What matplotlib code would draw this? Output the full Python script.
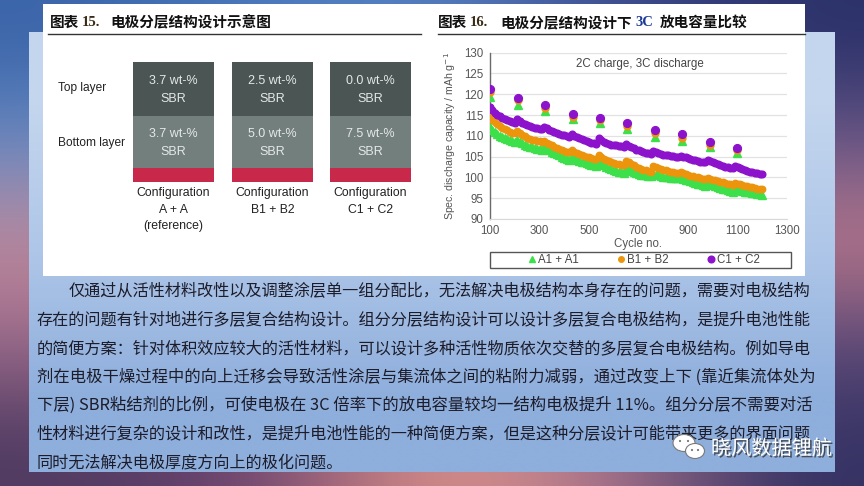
import numpy as np
import matplotlib
matplotlib.use('Agg')
import matplotlib.pyplot as plt
from matplotlib.patches import Rectangle, Ellipse
from matplotlib import font_manager
import matplotlib.patheffects as pe

# ---------------- data ----------------
cycles = list(range(100, 1201, 10))
a_main = [112.2, 111.5, 110.9, 110.4, 110.0, 109.7, 109.4, 109.2, 109.0, 108.8, 108.6,
          109.0, 108.6, 108.2, 107.9, 107.6, 107.4, 107.2, 107.0, 106.9, 106.8, 106.6,
          107.2, 106.8, 106.5, 106.2, 105.9, 105.6, 105.3, 105.0, 104.7, 104.4, 104.2,
          105.0, 104.6, 104.3, 104.0, 103.8, 103.6, 103.4, 103.2, 103.0, 102.9, 102.8,
          103.8, 103.3, 102.9, 102.6, 102.3, 102.0, 101.8, 101.6, 101.4, 101.2, 101.0,
          102.3, 101.9, 101.6, 101.3, 101.1, 100.9, 100.7, 100.6, 100.5, 100.4, 100.3,
          100.8, 100.6, 100.5, 100.3, 100.2, 100.1, 100.0, 99.9, 99.9, 99.8, 99.8,
          99.9, 99.7, 99.5, 99.3, 99.1, 98.9, 98.7, 98.5, 98.3, 98.1, 97.9,
          98.6, 98.3, 98.1, 97.9, 97.7, 97.5, 97.3, 97.1, 96.9, 96.7, 96.5,
          97.1, 97.0, 96.9, 96.7, 96.6, 96.5, 96.4, 96.3, 96.2, 96.0, 95.9, 95.8]
b_main = [114.6, 113.9, 113.3, 112.8, 112.3, 111.9, 111.6, 111.3, 111.0, 110.8, 110.6,
          111.2, 110.7, 110.3, 109.9, 109.6, 109.3, 109.1, 108.9, 108.8, 108.7, 108.6,
          108.8, 108.4, 108.0, 107.7, 107.4, 107.1, 106.8, 106.6, 106.4, 106.2, 106.0,
          106.6, 106.2, 105.9, 105.6, 105.3, 105.1, 104.9, 104.8, 104.6, 104.5, 104.4,
          105.4, 104.9, 104.5, 104.2, 103.9, 103.7, 103.5, 103.3, 103.2, 103.1, 103.0,
          104.0, 103.6, 103.2, 102.9, 102.6, 102.3, 102.1, 101.9, 101.7, 101.5, 101.4,
          102.8, 102.5, 102.3, 102.1, 101.9, 101.7, 101.5, 101.4, 101.2, 101.1, 101.0,
          101.2, 101.0, 100.8, 100.6, 100.4, 100.3, 100.1, 100.0, 99.8, 99.7, 99.6,
          99.9, 99.7, 99.5, 99.3, 99.1, 98.9, 98.8, 98.6, 98.5, 98.3, 98.2,
          98.7, 98.5, 98.3, 98.2, 98.0, 97.9, 97.7, 97.6, 97.5, 97.3, 97.2, 97.1]
c_main = [116.9, 116.2, 115.6, 115.1, 114.7, 114.4, 114.1, 113.8, 113.6, 113.4, 113.2,
          114.0, 113.5, 113.1, 112.8, 112.5, 112.3, 112.1, 111.9, 111.8, 111.7, 111.6,
          112.2, 111.8, 111.5, 111.2, 110.9, 110.7, 110.5, 110.3, 110.1, 110.0, 109.8,
          110.4, 110.0, 109.7, 109.4, 109.2, 109.0, 108.8, 108.6, 108.4, 108.2, 108.1,
          109.4, 108.9, 108.6, 108.3, 108.1, 107.9, 107.8, 107.7, 107.6, 107.5, 107.4,
          108.0, 107.6, 107.3, 107.0, 106.7, 106.5, 106.3, 106.1, 105.9, 105.8, 105.6,
          106.4, 106.0, 105.8, 105.6, 105.5, 105.4, 105.3, 105.2, 105.1, 105.0, 105.0,
          105.2, 105.0, 104.8, 104.6, 104.4, 104.3, 104.1, 104.0, 103.8, 103.7, 103.6,
          104.2, 103.9, 103.6, 103.4, 103.2, 103.0, 102.8, 102.6, 102.5, 102.3, 102.2,
          102.8, 102.5, 102.2, 102.0, 101.8, 101.6, 101.4, 101.3, 101.1, 101.0, 100.9, 100.8]
check_cycles = [100, 212, 324, 435, 545, 655, 765, 876, 987, 1098]
a_check = [119.3, 117.5, 116.0, 114.0, 113.0, 111.6, 109.8, 108.7, 107.2, 105.8]
b_check = [120.6, 118.6, 116.8, 114.6, 113.7, 112.4, 110.8, 109.6, 107.9, 106.5]
c_check = [121.2, 119.2, 117.4, 115.2, 114.4, 113.2, 111.5, 110.4, 108.6, 107.1]
series_names = ['A1 + A1', 'B1 + B2', 'C1 + C2']
x_ticks = [100, 300, 500, 700, 900, 1100, 1300]
y_ticks = [90, 95, 100, 105, 110, 115, 120, 125, 130]

top_sbr = [3.7, 2.5, 0.0]
bottom_sbr = [3.7, 5.0, 7.5]
config_labels = ['Configuration\nA + A\n(reference)', 'Configuration\nB1 + B2',
                 'Configuration\nC1 + C2']
layer_labels = ['Top layer', 'Bottom layer']

paragraph = [
    '仅通过从活性材料改性以及调整涂层单一组分配比，无法解决电极结构本身存在的问题，需要对电极结构',
    '存在的问题有针对地进行多层复合结构设计。组分分层结构设计可以设计多层复合电极结构，是提升电池性能',
    '的简便方案：针对体积效应较大的活性材料，可以设计多种活性物质依次交替的多层复合电极结构。例如导电',
    '剂在电极干燥过程中的向上迁移会导致活性涂层与集流体之间的粘附力减弱，通过改变上下 (靠近集流体处为',
    '下层) SBR粘结剂的比例，可使电极在 3C 倍率下的放电容量较均一结构电极提升 11%。组分分层不需要对活',
    '性材料进行复杂的设计和改性，是提升电池性能的一种简便方案，但是这种分层设计可能带来更多的界面问题',
    '同时无法解决电极厚度方向上的极化问题。',
]

# ---------------- fonts ----------------
names = {f.name for f in font_manager.fontManager.ttflist}
narrow = 'Liberation Sans Narrow' if 'Liberation Sans Narrow' in names else 'Liberation Sans'
CJK = ['Noto Sans CJK SC', 'DejaVu Sans']
plt.rcParams['font.family'] = ['Liberation Sans', 'DejaVu Sans']

fig = plt.figure(figsize=(8.64, 4.86), dpi=100)
bg = fig.add_axes([0, 0, 1, 1])
bg.axis('off')

def hx(c):
    c = c.lstrip('#')
    return [int(c[i:i + 2], 16) / 255 for i in (0, 2, 4)]

grid_cols = [
    ['#3a64a8', '#4a78bc', '#5684c4', '#3c4c92', '#2a3068'],
    ['#6a8cc4', '#7a96c8', '#8aa0cc', '#7a6898', '#6a5888'],
    ['#c48a9a', '#b890a0', '#a898b0', '#b07a90', '#c07a8a'],
    ['#9a6a8c', '#a07090', '#c08890', '#806088', '#5a4878'],
    ['#4e3a60', '#6a4070', '#e89888', '#b07890', '#303062'],
]
img = np.array([[hx(c) for c in row] for row in grid_cols])
bg.imshow(img, extent=(0, 864, 486, 0), aspect='auto', interpolation='bicubic', zorder=0)

panel = np.array([[hx('#c4d6ee')], [hx('#aec6e8')], [hx('#8eaedc')]])
bg.imshow(panel, extent=(29, 835, 472, 33), aspect='auto', interpolation='bilinear', zorder=1)
bg.set_xlim(0, 864)
bg.set_ylim(486, 0)

bg.add_patch(Rectangle((43, 4), 762, 272, facecolor='white', edgecolor='none', zorder=2))
bg.plot([48, 421], [34, 34], color='#333333', lw=1.0, zorder=3)
bg.plot([438, 805], [34, 34], color='#333333', lw=1.0, zorder=3)

tkw = dict(va='center', ha='left', zorder=4)
bg.text(50, 22, '图表', fontsize=10.5, family=CJK, weight='heavy', color='#111111', **tkw)
bg.text(82, 23, '15.', fontsize=10.5, family='Liberation Serif', weight='bold', color='#3a2a14', **tkw)
bg.text(110, 22, '电极分层结构设计示意图', fontsize=10.5, family=CJK, weight='heavy', color='#111111', **tkw)
bg.text(438, 22, '图表', fontsize=10.5, family=CJK, weight='heavy', color='#111111', **tkw)
bg.text(470, 23, '16.', fontsize=10.5, family='Liberation Serif', weight='bold', color='#3a2a14', **tkw)
bg.text(500, 22, '电极分层结构设计下', fontsize=10.5, family=CJK, weight='heavy', color='#111111', **tkw)
bg.text(635, 23, '3C', fontsize=10.5, family='Liberation Serif', weight='bold', color='#1a3a96', **tkw)
bg.text(660, 22, '放电容量比较', fontsize=10.5, family=CJK, weight='heavy', color='#111111', **tkw)

# ---------------- layer diagram ----------------
col_x = [133, 232, 330]
bw = 81
dfs = 9.0
for i, cx0 in enumerate(col_x):
    bg.add_patch(Rectangle((cx0, 62), bw, 54, facecolor='#4b5553', edgecolor='none', zorder=3))
    bg.add_patch(Rectangle((cx0, 116), bw, 52, facecolor='#737f7d', edgecolor='none', zorder=3))
    bg.add_patch(Rectangle((cx0, 168), bw, 14, facecolor='#c8284a', edgecolor='none', zorder=3))
    cx = cx0 + bw / 2
    bg.text(cx, 81, f'{top_sbr[i]:.1f} wt-%', fontsize=dfs, family=narrow, color='#e4e8e8',
            ha='center', va='center', zorder=4)
    bg.text(cx, 99, 'SBR', fontsize=dfs, family=narrow, color='#e4e8e8', ha='center', va='center', zorder=4)
    bg.text(cx, 134, f'{bottom_sbr[i]:.1f} wt-%', fontsize=dfs, family=narrow, color='#e4e8e8',
            ha='center', va='center', zorder=4)
    bg.text(cx, 152, 'SBR', fontsize=dfs, family=narrow, color='#e4e8e8', ha='center', va='center', zorder=4)
    bg.text(cx, 187, config_labels[i], fontsize=8.8, family=narrow, color='#222222',
            ha='center', va='top', linespacing=1.5, zorder=4)
bg.text(58, 88, layer_labels[0], fontsize=8.6, family=narrow, color='#222222', ha='left', va='center', zorder=4)
bg.text(58, 143, layer_labels[1], fontsize=8.6, family=narrow, color='#222222', ha='left', va='center', zorder=4)

# ---------------- chart ----------------
ax = fig.add_axes([490 / 864, 1 - 219 / 486, 297 / 864, (219 - 52.7) / 486])
ax.set_zorder(5)
ax.set_facecolor('white')
col_a, col_b, col_c = '#3de04a', '#ec950c', '#8c12cc'
ax.plot(cycles, a_main, ls='none', marker='^', ms=5.2, color=col_a, mec=col_a, zorder=3)
ax.plot(cycles, b_main, ls='none', marker='o', ms=4.6, color=col_b, mec=col_b, zorder=3)
ax.plot(cycles, c_main, ls='none', marker='o', ms=4.8, color=col_c, mec=col_c, zorder=3)
ax.plot(check_cycles, a_check, ls='none', marker='^', ms=5.2, color=col_a, mec=col_a, zorder=3)
ax.plot(check_cycles, b_check, ls='none', marker='o', ms=5.0, color=col_b, mec=col_b, zorder=4)
ax.plot(check_cycles, c_check, ls='none', marker='o', ms=5.6, color=col_c, mec=col_c, zorder=5)
ax.set_xlim(100, 1300)
ax.set_ylim(90, 130)
ax.set_xticks(x_ticks)
ax.set_yticks(y_ticks)
ax.tick_params(length=0, labelsize=8.3, labelcolor='#555555')
ax.tick_params(axis='y', pad=5)
ax.tick_params(axis='x', pad=4)
ax.grid(axis='y', color='#e2e2e2', lw=0.9)
ax.set_axisbelow(True)
for s in ['top', 'right']:
    ax.spines[s].set_visible(False)
ax.spines['left'].set_color('#6a6a6a')
ax.spines['left'].set_linewidth(1.0)
ax.spines['bottom'].set_color('#d8d8d8')
ax.set_xlabel('Cycle no.', fontsize=8.3, color='#555555', labelpad=1)
ax.set_ylabel('Spec. discharge capacity / mAh g$^{-1}$', fontsize=7.6, color='#555555', labelpad=4)
ax.text(0.505, 0.93, '2C charge, 3C discharge', transform=ax.transAxes, fontsize=8.3,
        color='#444444', ha='center', va='center')
h1 = ax.plot([], [], ls='none', marker='^', ms=4.5, color=col_a)[0]
h2 = ax.plot([], [], ls='none', marker='o', ms=4.0, color=col_b)[0]
h3 = ax.plot([], [], ls='none', marker='o', ms=4.8, color=col_c)[0]
bg.add_patch(Rectangle((490, 252), 301, 16, facecolor='white', edgecolor='#555555', lw=1.0, zorder=3))
leg = ax.legend([h1, h2, h3], series_names, ncol=3, loc='center',
                bbox_to_anchor=(0.52, -0.247), fontsize=8.3, frameon=False,
                handlelength=0.6, handletextpad=0.2, columnspacing=3.4,
                labelcolor='#444444', borderpad=0)

# ---------------- paragraph ----------------
r = fig.canvas.get_renderer()
for i, line in enumerate(paragraph):
    x0 = 69 if i == 0 else 37
    y = 291 + i * 28.6
    t = bg.text(x0, y, line, fontsize=11.6, family=CJK, color='#1c1c2a', ha='left', va='center', zorder=4)
    if i < len(paragraph) - 1:
        w = t.get_window_extent(renderer=r).width
        t.set_fontsize(11.6 * (814 - x0) / w)

# ---------------- watermark ----------------
bg.add_patch(Ellipse((684, 443), 22, 17, facecolor='white', edgecolor='#7a7a7a', lw=0.8, zorder=6))
bg.add_patch(Ellipse((695, 451), 19, 15, facecolor='white', edgecolor='#7a7a7a', lw=0.8, zorder=7))
for ex, ey in [(680, 441), (688, 441), (692, 450), (698, 450)]:
    bg.add_patch(Ellipse((ex, ey), 2.2, 2.2, facecolor='#777777', edgecolor='none', zorder=8))
bg.text(711, 449, '晓风数据锂航', fontsize=14.5, family=CJK, color='white', ha='left', va='center',
        zorder=9, path_effects=[pe.withSimplePatchShadow(offset=(1.2, -1.2), shadow_rgbFace='#333333', alpha=0.8)])

fig.savefig('out.png', dpi=100)
